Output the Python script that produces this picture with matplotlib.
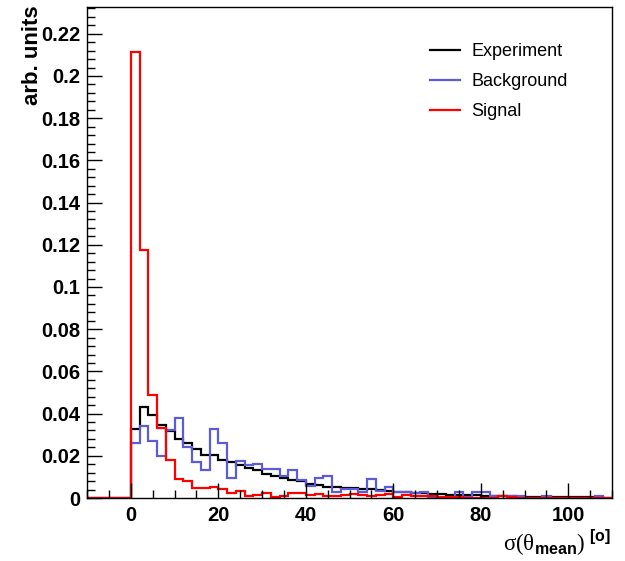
import numpy as np
import matplotlib
matplotlib.use("Agg")
import matplotlib.pyplot as plt
from matplotlib.lines import Line2D
from matplotlib.ticker import MultipleLocator, FormatStrFormatter

# bin edges: width 2 from -10 to 110 (nothing below 0)
edges = np.arange(-10, 112, 2)

experiment = [
    0.0325, 0.0430, 0.0392, 0.0348, 0.0318, 0.0280, 0.0259, 0.0231, 0.0206, 0.0205,
    0.0180, 0.0171, 0.0155, 0.0143, 0.0134, 0.0112, 0.0102, 0.0094, 0.0086, 0.0080,
    0.0066, 0.0063, 0.0053, 0.0050, 0.0049, 0.0047, 0.0045, 0.0042, 0.0037, 0.0033,
    0.0030, 0.0027, 0.0024, 0.0022, 0.0020, 0.0018, 0.0016, 0.0015, 0.0013, 0.0012,
    0.0011, 0.0010, 0.0009, 0.0008, 0.0007, 0.0006, 0.0006, 0.0005, 0.0005, 0.0004,
    0.0004, 0.0003, 0.0003, 0.0003, 0.0002,
]
background = [
    0.0259, 0.0341, 0.0268, 0.0201, 0.0324, 0.0381, 0.0243, 0.0172, 0.0133, 0.0325,
    0.0259, 0.0093, 0.0176, 0.0158, 0.0161, 0.0136, 0.0136, 0.0104, 0.0133, 0.0085,
    0.0056, 0.0093, 0.0105, 0.0027, 0.0041, 0.0041, 0.0027, 0.0091, 0.0032, 0.0054,
    0.0027, 0.0027, 0.0022, 0.0027, 0.0005, 0.0002, 0.0002, 0.0027, 0.0003, 0.0027,
    0.0027, 0.0011, 0.0008, 0.0011, 0.0011, 0.0002, 0.0002, 0.0011, 0.0002, 0.0000,
    0.0002, 0.0000, 0.0002, 0.0011, 0.0000,
]
signal = [
    0.2115, 0.1175, 0.0488, 0.0330, 0.0180, 0.0090, 0.0082, 0.0046, 0.0047, 0.0054,
    0.0041, 0.0022, 0.0033, 0.0009, 0.0014, 0.0022, 0.0003, 0.0009, 0.0022, 0.0022,
    0.0014, 0.0019, 0.0009, 0.0009, 0.0016, 0.0019, 0.0014, 0.0010, 0.0016, 0.0019,
    0.0007, 0.0012, 0.0010, 0.0008, 0.0011, 0.0007, 0.0005, 0.0003, 0.0002, 0.0002,
    0.0002, 0.0002, 0.0011, 0.0004, 0.0002, 0.0002, 0.0001, 0.0002, 0.0001, 0.0001,
    0.0002, 0.0001, 0.0001, 0.0001, 0.0001,
]

labels = ["Experiment", "Background", "Signal"]
colors = ["black", "#5c5cd8", "red"]

plt.rcParams['font.family'] = ['Liberation Sans', 'DejaVu Sans']
plt.rcParams['mathtext.fontset'] = 'custom'
plt.rcParams['mathtext.rm'] = 'Liberation Serif'
plt.rcParams['mathtext.bf'] = 'Liberation Sans:bold'

fig = plt.figure(figsize=(6.25, 5.61), dpi=100)
ax = fig.add_axes([87 / 625, 1 - 498 / 561, (612 - 87) / 625, (498 - 7) / 561])

pad = [0.0] * 5
for vals, c in zip([experiment, background, signal], colors):
    ax.stairs(pad + vals, edges, color=c, lw=1.6)

ax.set_xlim(-10, 110)
ax.set_ylim(0, 0.2327)

ax.xaxis.set_major_locator(MultipleLocator(20))
ax.xaxis.set_minor_locator(MultipleLocator(5))
ax.yaxis.set_major_locator(MultipleLocator(0.02))
ax.yaxis.set_minor_locator(MultipleLocator(0.004))
ax.yaxis.set_major_formatter(FormatStrFormatter('%g'))
ax.tick_params(which='both', direction='in', top=False, right=False,
               labelsize=14.5, width=1)
ax.tick_params(which='major', length=11)
ax.tick_params(which='minor', length=5.5)
ax.tick_params(axis='y', pad=5)
ax.tick_params(axis='x', pad=6)
for lab in ax.get_xticklabels() + ax.get_yticklabels():
    lab.set_fontweight('bold')
for s in ax.spines.values():
    s.set_linewidth(1)

fig.text(33 / 625, 1 - 5 / 561, 'arb. units', rotation=90, ha='center', va='top',
         fontsize=16, fontweight='bold')
fig.text(611 / 625, 1 - 543 / 561,
         r'$\mathrm{\sigma(\theta}_{\mathbf{mean}}\mathrm{)}^{\ \mathbf{[o]}}$',
         ha='right', va='center', fontsize=16.5)

handles = [Line2D([], [], color=c, lw=1.6) for c in colors]
ax.legend(handles, labels, loc='upper left', bbox_to_anchor=(0.622, 0.96),
          frameon=False, fontsize=13, handlelength=1.7, handletextpad=0.6,
          labelspacing=0.72)

fig.savefig('out.png', dpi=100)
